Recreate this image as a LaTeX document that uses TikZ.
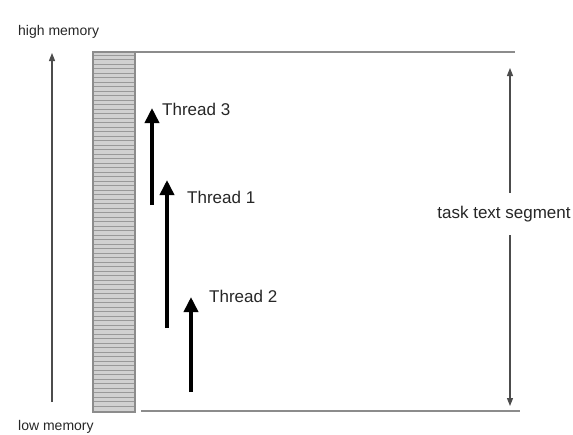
\documentclass[tikz,border=0pt]{standalone}
\usepackage{fontspec}
\setmainfont{Liberation Sans}
\usetikzlibrary{arrows.meta}

\begin{document}
\begin{tikzpicture}[x=1pt,y=-1pt,
    edge/.style={line width=1.6pt,draw=black!45},
    hatch/.style={line width=0.9pt,draw=black!40},
    span/.style={line width=1.1pt,draw=black!70,-{Triangle[length=8pt,width=6pt]}},
    thread/.style={line width=3.6pt,-{Triangle[length=15pt,width=14pt]}},
    word/.style={font=\fontsize{17}{20}\selectfont,text=black!85,inner sep=0pt,anchor=west},
    small/.style={font=\fontsize{14}{16}\selectfont,text=black!85,inner sep=0pt,anchor=west}]

  \useasboundingbox (0,0) rectangle (573,434);

  % --- the striped block at the low end ---
  \fill[black!18] (93,52) rectangle (135,412);
  \foreach \y in {55,59.5,...,410} \draw[hatch] (93,\y) -- (135,\y);
  \draw[edge] (93,52) rectangle (135,412);

  % --- top and bottom of the segment ---
  \coordinate (segtl) at (135,52);
  \coordinate (segtr) at (515,52);
  \coordinate (segbl) at (141,411);
  \coordinate (segbr) at (520,411);
  \draw[edge] (segtl) -- (segtr);
  \draw[edge] (segbl) -- (segbr);

  % --- memory direction ---
  \node[small] (high) at (18,32) {high memory};
  \node[small] (low)  at (18,427) {low memory};
  \coordinate (membot) at (52,402);
  \coordinate (memtop) at (52,53);
  \draw[span] (membot) -- (memtop);

  % --- extent of the text segment ---
  \node[word,anchor=center,fill=white,minimum height=42pt] (seg) at (504,214) {task text segment};
  \coordinate (segtop) at (510,68);
  \coordinate (segbot) at (510,406);
  \draw[span] (seg.north -| segtop) -- (segtop);
  \draw[span] (seg.south -| segbot) -- (segbot);

  % --- the three threads ---
  \coordinate (t3a) at (152,205);
  \coordinate (t3b) at (152,108);
  \coordinate (t1a) at (167,328);
  \coordinate (t1b) at (167,180);
  \coordinate (t2a) at (191,392);
  \coordinate (t2b) at (191,297);
  \draw[thread] (t3a) -- (t3b);
  \draw[thread] (t1a) -- (t1b);
  \draw[thread] (t2a) -- (t2b);

  \node[word] (t3) at (162,109) {Thread 3};
  \node[word] (t1) at (187,197) {Thread 1};
  \node[word] (t2) at (209,296) {Thread 2};
\end{tikzpicture}
\end{document}
